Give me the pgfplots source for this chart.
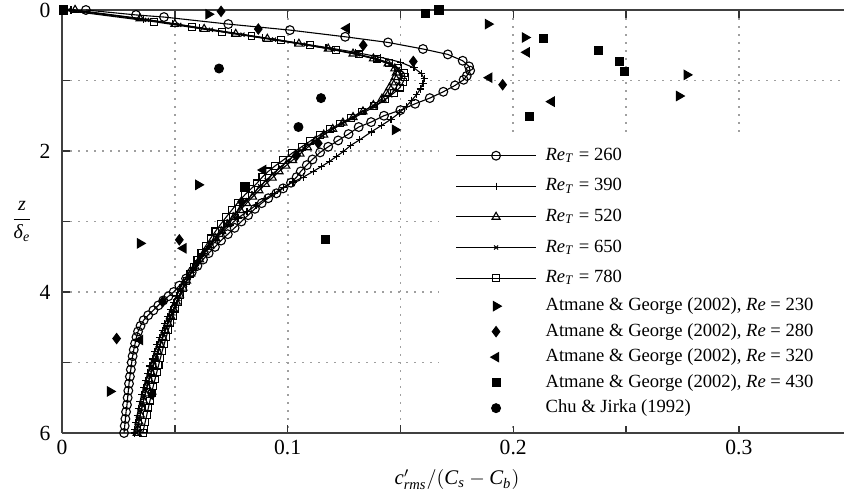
\documentclass[border=0pt]{standalone}
\usepackage{amsmath}
\usepackage{fontspec}
\setmainfont{Liberation Serif}
\usepackage{pgfplots}
\usepackage{pgfplotstable}
\pgfplotsset{compat=1.18}
\usetikzlibrary{calc}

\pgfplotstableread{
c z
0.0106 0
0.0328 0.07
0.0452 0.10
0.0737 0.20
0.101 0.285
0.1255 0.38
0.1445 0.46
0.160 0.553
0.171 0.63
0.1776 0.72
0.1804 0.80
0.1809 0.86
0.1794 0.935
0.178 0.99
0.1742 1.07
0.169 1.16
0.163 1.25
0.1565 1.33
0.150 1.42
0.1427 1.50
0.137 1.59
0.1315 1.66
0.127 1.76
0.1224 1.85
0.118 1.94
0.1144 2.02
0.111 2.12
0.1085 2.20
0.1058 2.29
0.104 2.37
0.1015 2.45
0.098 2.53
0.095 2.60
0.0914 2.67
0.0885 2.74
0.0855 2.82
0.0825 2.91
0.0795 3.00
0.0765 3.09
0.0735 3.18
0.0705 3.27
0.0678 3.36
0.065 3.45
0.0625 3.54
0.060 3.63
0.0575 3.72
0.055 3.81
0.052 3.91
0.0495 4.00
0.0472 4.06
0.0449 4.12
0.0427 4.19
0.0405 4.26
0.0382 4.33
0.0362 4.40
0.0348 4.48
0.0337 4.56
0.033 4.64
0.0324 4.73
0.0318 4.82
0.0313 4.91
0.0309 5.00
0.0305 5.10
0.0301 5.20
0.0297 5.30
0.0294 5.40
0.0291 5.50
0.0288 5.60
0.0284 5.70
0.0281 5.80
0.0278 5.90
0.0275 6.00
}\reA

\pgfplotstableread{
c z
0.004 0
0.036 0.13
0.049 0.19
0.061 0.25
0.075 0.32
0.089 0.39
0.103 0.46
0.117 0.53
0.130 0.60
0.141 0.67
0.150 0.74
0.156 0.82
0.1592 0.90
0.1605 0.97
0.1600 1.04
0.1588 1.12
0.1572 1.20
0.1550 1.28
0.1525 1.37
0.1495 1.46
0.1458 1.55
0.1415 1.64
0.137 1.73
0.132 1.84
0.128 1.92
0.1246 2.01
0.1215 2.08
0.1185 2.15
0.115 2.22
0.1113 2.29
0.107 2.37
0.1024 2.44
0.098 2.52
0.094 2.60
0.090 2.68
0.086 2.77
0.082 2.86
0.078 2.95
0.0745 3.05
0.071 3.15
0.068 3.25
0.065 3.35
0.0625 3.45
0.060 3.55
0.0578 3.65
0.0558 3.75
0.0540 3.85
0.0524 3.95
0.0508 4.05
0.0494 4.15
0.0481 4.25
0.0468 4.35
0.0456 4.45
0.0444 4.55
0.0432 4.65
0.0421 4.75
0.041 4.85
0.040 4.95
0.039 5.05
0.038 5.15
0.0371 5.25
0.0362 5.35
0.0354 5.45
0.0346 5.55
0.0339 5.65
0.0333 5.75
0.0327 5.85
0.0322 5.95
0.032 6.00
}\reB

\pgfplotstableread{
c z
0.0058 0
0.0346 0.12
0.050 0.20
0.063 0.27
0.077 0.34
0.091 0.41
0.105 0.48
0.118 0.55
0.129 0.62
0.138 0.69
0.1445 0.76
0.1475 0.83
0.1482 0.89
0.1476 0.955
0.1465 1.03
0.1452 1.10
0.1438 1.18
0.1418 1.26
0.138 1.35
0.1334 1.44
0.129 1.52
0.1245 1.60
0.1200 1.69
0.1160 1.77
0.1122 1.86
0.1088 1.95
0.1055 2.04
0.1022 2.13
0.0992 2.21
0.0962 2.29
0.0932 2.38
0.0902 2.47
0.0873 2.56
0.0845 2.65
0.0818 2.74
0.0790 2.84
0.0762 2.94
0.0735 3.04
0.0708 3.14
0.0682 3.24
0.0657 3.34
0.0633 3.44
0.0610 3.54
0.0589 3.64
0.0570 3.74
0.0552 3.84
0.0536 3.94
0.0521 4.04
0.0507 4.14
0.0494 4.24
0.0481 4.34
0.0469 4.44
0.0457 4.54
0.0446 4.64
0.0435 4.74
0.0424 4.84
0.0414 4.94
0.0404 5.04
0.0395 5.14
0.0386 5.24
0.0377 5.34
0.0369 5.44
0.0361 5.54
0.0354 5.64
0.0347 5.74
0.0341 5.84
0.0336 5.94
0.0333 6.00
}\reC

\pgfplotstableread{
c z
0.003 0
0.0377 0.14
0.052 0.21
0.066 0.28
0.080 0.35
0.094 0.42
0.108 0.49
0.120 0.56
0.131 0.63
0.1395 0.70
0.1455 0.77
0.149 0.84
0.1505 0.91
0.150 0.98
0.149 1.05
0.1475 1.13
0.1455 1.21
0.1425 1.29
0.1385 1.37
0.134 1.45
0.1293 1.53
0.1245 1.61
0.120 1.69
0.1155 1.78
0.1112 1.87
0.1072 1.96
0.1035 2.05
0.100 2.14
0.0968 2.23
0.0937 2.32
0.0907 2.41
0.0878 2.50
0.0848 2.60
0.0820 2.70
0.0792 2.80
0.0765 2.90
0.0738 3.00
0.0712 3.10
0.0687 3.20
0.0663 3.30
0.0640 3.40
0.0618 3.50
0.0598 3.60
0.0579 3.70
0.0561 3.80
0.0545 3.90
0.0530 4.00
0.0516 4.10
0.0502 4.20
0.0489 4.30
0.0476 4.40
0.0464 4.50
0.0452 4.60
0.0441 4.70
0.0430 4.80
0.0420 4.90
0.0410 5.00
0.0400 5.10
0.0391 5.20
0.0382 5.30
0.0373 5.40
0.0365 5.50
0.0357 5.60
0.0350 5.70
0.0343 5.80
0.0337 5.90
0.0331 6.00
}\reD

\pgfplotstableread{
c z
0.0005 0
0.0408 0.166
0.0575 0.246
0.0710 0.31
0.0840 0.37
0.0970 0.43
0.1100 0.50
0.1215 0.565
0.1315 0.63
0.1395 0.69
0.1450 0.75
0.1490 0.82
0.1515 0.89
0.1520 0.95
0.1512 1.02
0.1498 1.10
0.1470 1.18
0.1432 1.27
0.1382 1.36
0.1328 1.44
0.1280 1.53
0.1232 1.61
0.1188 1.69
0.1144 1.77
0.1100 1.86
0.1062 1.94
0.1020 2.03
0.0980 2.13
0.0945 2.21
0.0914 2.29
0.0888 2.37
0.0863 2.46
0.0837 2.54
0.0811 2.62
0.0780 2.73
0.0752 2.84
0.0727 2.94
0.0703 3.04
0.0680 3.14
0.0658 3.24
0.0638 3.34
0.0618 3.44
0.0600 3.54
0.0583 3.64
0.0567 3.74
0.0552 3.84
0.0538 3.94
0.0525 4.04
0.0513 4.14
0.0502 4.24
0.0491 4.34
0.0481 4.44
0.0471 4.54
0.0462 4.64
0.0453 4.74
0.0444 4.84
0.0436 4.94
0.0428 5.04
0.0420 5.14
0.0412 5.24
0.0404 5.34
0.0397 5.44
0.0390 5.54
0.0383 5.64
0.0376 5.74
0.0369 5.84
0.0362 5.94
0.0358 6.00
}\reE

\pgfplotstableread{
c z
0.0649 0.06
0.1888 0.20
0.2052 0.39
0.2769 0.92
0.2735 1.22
0.1476 1.70
0.0604 2.48
0.0346 3.31
0.0213 5.41
}\atA

\pgfplotstableread{
c z
0.0705 0.02
0.087 0.27
0.1335 0.50
0.1557 0.73
0.1953 1.06
0.1136 1.89
0.1040 2.06
0.0796 2.72
0.0520 3.26
0.0446 4.14
0.0242 4.66
0.0400 5.45
}\atB

\pgfplotstableread{
c z
0.1262 0.26
0.2060 0.60
0.1894 0.96
0.2170 1.30
0.0892 2.27
0.0538 3.38
0.0346 4.68
}\atC

\pgfplotstableread{
c z
0.0005 0
0.1612 0.047
0.1671 0.0
0.2134 0.40
0.2377 0.57
0.2469 0.73
0.2492 0.875
0.2074 1.51
0.0811 2.51
0.1166 3.26
}\atD

\pgfplotstableread{
c z
0.0696 0.83
0.1148 1.25
0.1048 1.66
}\chu

\pgfplotsset{
  lineleg/.style={legend image code/.code={
    \path (0pt,-7.375pt) (40pt,7.375pt);
    \draw[mark repeat=2,mark phase=2,##1] plot coordinates {(0pt,0pt) (20pt,0pt) (40pt,0pt)};}},
  markleg/.style={legend image code/.code={
    \path (0pt,-6.1pt) (40pt,6.1pt);
    \draw[##1] plot coordinates {(20pt,0pt)};}},
}

\begin{document}
\fontsize{9.3}{11}\selectfont
\begin{tikzpicture}
\begin{axis}[
  name=ax,
  scale only axis,
  width=391pt, height=211.5pt,
  xmin=0, xmax=0.3466,
  ymin=0, ymax=6,
  y dir=reverse,
  clip=false,
  axis x line*=box, axis y line*=left,
  axis line style={-, line width=0.9pt, black!75},
  xtick={0,0.05,0.1,0.15,0.2,0.25,0.3},
  xticklabels={0,,0.1,,0.2,,0.3},
  ytick={0,1,2,3,4,5,6},
  yticklabels={0,,2,,4,,6},
  major tick length=4pt,
  tick style={line width=0.7pt, black!80},
  /pgf/number format/assume math mode=true,
  tick label style={font=\fontsize{10.8}{13}\selectfont},
  xticklabel style={yshift=-0.5pt},
  yticklabel style={xshift=-2.5pt},
  grid=major,
  grid style={line width=0.9pt, gray!75, dash pattern=on 0.8pt off 3.2pt},
  every axis x label/.style={at={(axis description cs:0.505,0)}, anchor=center, yshift=-23.5pt, font=\fontsize{10.4}{12.5}\selectfont},
  every axis y label/.style={at={(axis description cs:0,0.5)}, anchor=center, xshift=-20pt, font=\fontsize{10}{12}\selectfont},
  xlabel={$\textit{c}'_{\textit{rms}}/(\textit{C}_{\textit{s}}-\textit{C}_{\textit{b}})$},
  ylabel={$\dfrac{\textit{z}}{\textit{δ}_{\textit{e}}}$},
  legend cell align=left,
  legend style={at={(axis cs:0.1667,1.773)}, anchor=north west, draw=none, fill=white,
    inner xsep=8.5pt, inner ysep=2.5pt, row sep=0pt, column sep=0pt,
    nodes={inner sep=0pt, text height=6.5pt, text depth=2pt},
    /tikz/every odd column/.style={column sep=4.5pt},
    /tikz/every even column/.style={column sep=0pt}},
  every axis plot/.append style={line width=0.55pt, black, mark options={solid, line width=0.55pt}},
]
\addplot[lineleg, mark=o, mark size=2.2pt] table[x=c,y=z] {\reA};
\addlegendentry{\textit{Re}\textsubscript{\textit{T}} = 260}
\addplot[lineleg, mark=+, mark size=1.8pt] table[x=c,y=z] {\reB};
\addlegendentry{\textit{Re}\textsubscript{\textit{T}} = 390}
\addplot[lineleg, mark=triangle, mark size=2.3pt] table[x=c,y=z] {\reC};
\addlegendentry{\textit{Re}\textsubscript{\textit{T}} = 520}
\addplot[lineleg, mark=x, mark size=1.4pt] table[x=c,y=z] {\reD};
\addlegendentry{\textit{Re}\textsubscript{\textit{T}} = 650}
\addplot[lineleg, mark=square, mark size=1.7pt] table[x=c,y=z] {\reE};
\addlegendentry{\textit{Re}\textsubscript{\textit{T}} = 780}
\addplot[markleg, only marks, mark=triangle*, mark size=2.6pt, mark options={rotate=-90, fill=black}] table[x=c,y=z] {\atA};
\addlegendentry{Atmane \& George (2002), \textit{Re} = 230}
\addplot[markleg, only marks, mark=diamond*, mark size=2.5pt, mark options={fill=black}] table[x=c,y=z] {\atB};
\addlegendentry{Atmane \& George (2002), \textit{Re} = 280}
\addplot[markleg, only marks, mark=triangle*, mark size=2.6pt, mark options={rotate=90, fill=black}] table[x=c,y=z] {\atC};
\addlegendentry{Atmane \& George (2002), \textit{Re} = 320}
\addplot[markleg, only marks, mark=square*, mark size=2pt, mark options={fill=black}] table[x=c,y=z] {\atD};
\addlegendentry{Atmane \& George (2002), \textit{Re} = 430\hspace*{5.5pt}}
\addplot[markleg, only marks, mark=*, mark size=2.2pt, mark options={fill=black}] table[x=c,y=z] {\chu};
\addlegendentry{Chu \& Jirka (1992)}
\end{axis}
\pgfresetboundingbox
\path[use as bounding box] ($(ax.south west)+(-31pt,-31.5pt)$) rectangle ($(ax.north east)+(0pt,5pt)$);
\end{tikzpicture}
\end{document}
